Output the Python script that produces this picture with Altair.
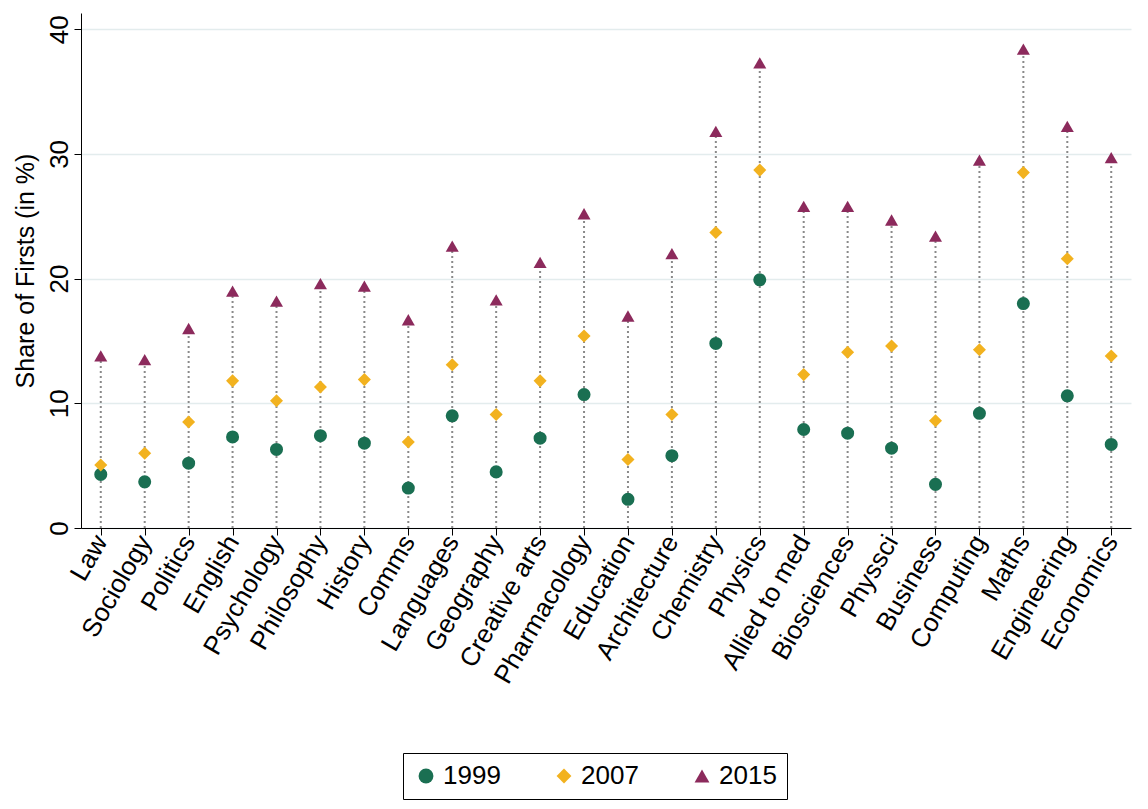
import altair as alt
import pandas as pd

subjects = ["Law", "Sociology", "Politics", "English", "Psychology", "Philosophy", "History",
            "Comms", "Languages", "Geography", "Creative arts", "Pharmacology", "Education",
            "Architecture", "Chemistry", "Physics", "Allied to med", "Biosciences", "Physsci",
            "Business", "Computing", "Maths", "Engineering", "Economics"]
y1999 = [4.3, 3.7, 5.2, 7.3, 6.3, 7.4, 6.8, 3.2, 9.0, 4.5, 7.2, 10.7, 2.3, 5.8, 14.8, 19.9,
         7.9, 7.6, 6.4, 3.5, 9.2, 18.0, 10.6, 6.7]
y2007 = [5.05, 6.0, 8.5, 11.8, 10.2, 11.3, 11.9, 6.9, 13.1, 9.1, 11.8, 15.4, 5.5, 9.1, 23.7,
         28.7, 12.3, 14.1, 14.6, 8.6, 14.3, 28.5, 21.6, 13.8]
y2015 = [13.8, 13.5, 16.0, 19.0, 18.2, 19.6, 19.4, 16.7, 22.6, 18.3, 21.3, 25.2, 17.0, 22.0,
         31.8, 37.3, 25.8, 25.8, 24.7, 23.4, 29.5, 38.4, 32.2, 29.7]

wide = pd.DataFrame({"subject": subjects, "1999": y1999, "2007": y2007, "2015": y2015})
wide["lo"] = 0
long = wide.melt(id_vars=["subject"], value_vars=["1999", "2007", "2015"],
                 var_name="year", value_name="share")

font = "Liberation Sans"
xscale = alt.Scale(type="point", domain=subjects, padding=0.45)
yscale = alt.Scale(domain=[0, 41.3], nice=False)

rules = alt.Chart(wide).mark_rule(color="#8a8a8a", strokeDash=[2, 3], strokeWidth=2).encode(
    x=alt.X("subject:N", scale=xscale, sort=subjects),
    y=alt.Y("lo:Q", scale=yscale),
    y2="2015:Q",
)

points = alt.Chart(long).mark_point(filled=True, opacity=1, size=170).encode(
    x=alt.X("subject:N", scale=xscale, sort=subjects,
            axis=alt.Axis(title=None, labelAngle=-60, labelAlign="right", labelBaseline="middle",
                          labelFontSize=26, labelColor="black", domainColor="black",
                          tickColor="black", tickSize=7, grid=False, labelPadding=2)),
    y=alt.Y("share:Q", scale=yscale,
            axis=alt.Axis(title="Share of Firsts (in %)", titleFontSize=25, titleFontWeight="normal",
                          titleColor="black", values=[0, 10, 20, 30, 40], labelAngle=-90,
                          labelAlign="center", labelBaseline="bottom", labelFontSize=26,
                          labelColor="black", domainColor="black", tickColor="black",
                          tickSize=7, gridColor="#e3eced", gridWidth=1.5, titlePadding=8)),
    color=alt.Color("year:N", scale=alt.Scale(domain=["1999", "2007", "2015"],
                                              range=["#1a6f52", "#f2b21f", "#8c2a5c"]),
                    legend=alt.Legend(title=None, orient="none", legendX=322, legendY=740,
                                      direction="horizontal",
                                      labelFontSize=26, labelColor="black", symbolSize=220,
                                      strokeColor="black", padding=10, columnPadding=50)),
    shape=alt.Shape("year:N", scale=alt.Scale(domain=["1999", "2007", "2015"],
                                              range=["circle", "diamond", "triangle-up"]),
                    legend=None),
)

chart = (rules + points).properties(width=1050, height=515).configure(
    font=font
).configure_view(stroke=None).configure_axis(labelFont=font, titleFont=font).configure_legend(
    labelFont=font)

chart.save("out.html", embed_options={"renderer": "svg", "actions": False})
